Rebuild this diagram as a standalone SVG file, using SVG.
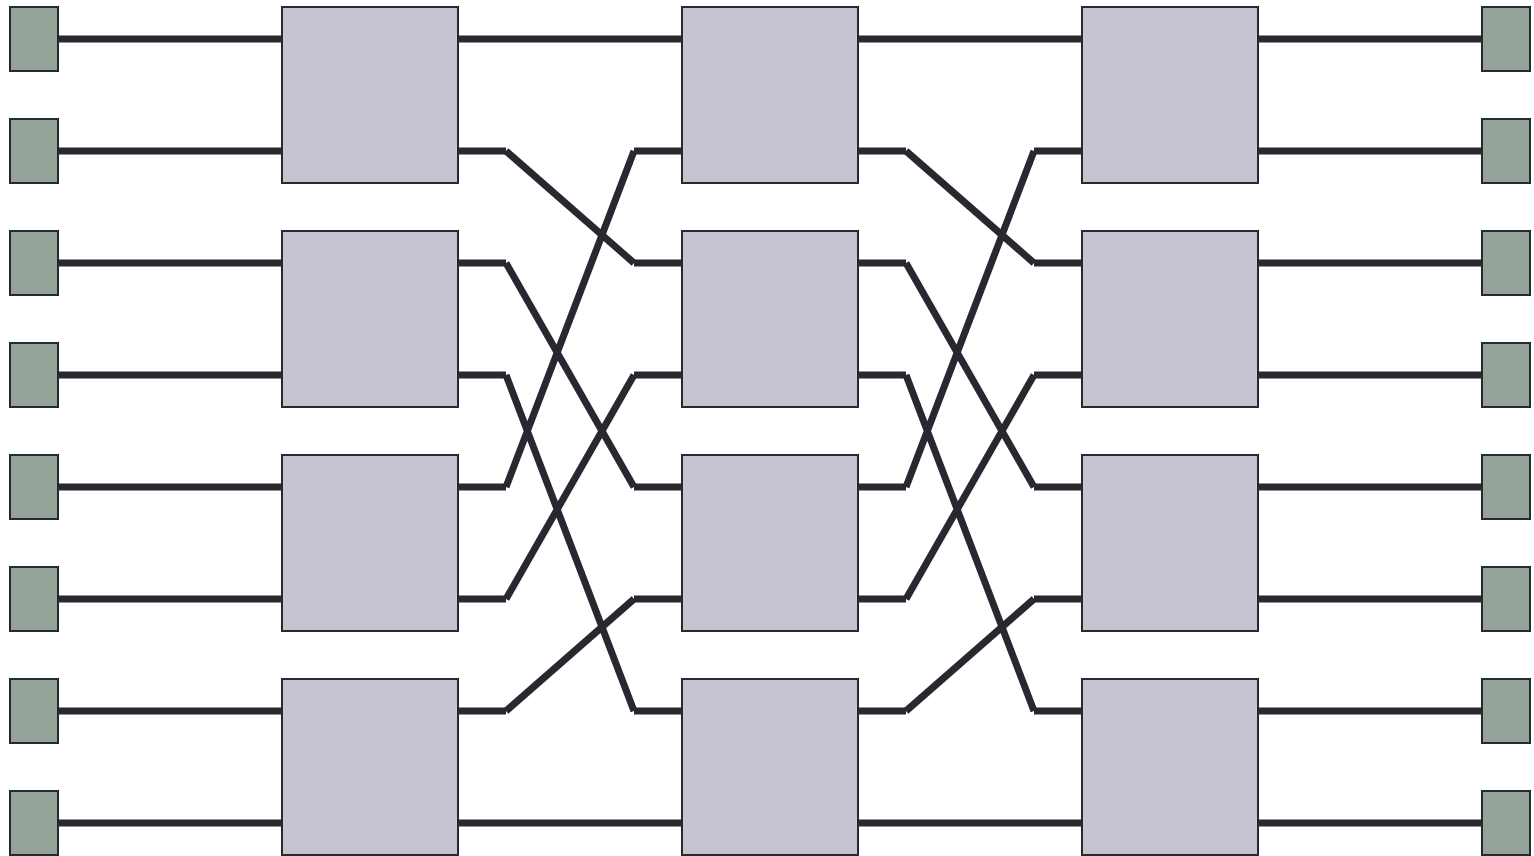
<svg xmlns="http://www.w3.org/2000/svg" width="1534" height="856" viewBox="0 0 1534 856">
<style>
.w{stroke:#282830;stroke-width:7;fill:none;stroke-linecap:butt}
.t{fill:#93a398;stroke:#282830;stroke-width:2}
.s{fill:#c5c5d2;stroke:#282830;stroke-width:2}
</style>
<rect width="1534" height="856" fill="#ffffff"/>
<g id="connectors" class="w">
<path d="M58 39H282M58 151H282M58 263H282M58 375H282M58 487H282M58 599H282M58 711H282M58 823H282"/>
<path d="M1258 39H1482M1258 151H1482M1258 263H1482M1258 375H1482M1258 487H1482M1258 599H1482M1258 711H1482M1258 823H1482"/>
<path d="M458 39H682M458 823H682M858 39H1082M858 823H1082"/>
<path d="M458 151H506M458 263H506M458 375H506M458 487H506M458 599H506M458 711H506"/>
<path d="M634 151H682M634 263H682M634 375H682M634 487H682M634 599H682M634 711H682"/>
<path d="M506 151L634 263M506 263L634 487M506 375L634 711M506 487L634 151M506 599L634 375M506 711L634 599"/>
<path d="M858 151H906M858 263H906M858 375H906M858 487H906M858 599H906M858 711H906"/>
<path d="M1034 151H1082M1034 263H1082M1034 375H1082M1034 487H1082M1034 599H1082M1034 711H1082"/>
<path d="M906 151L1034 263M906 263L1034 487M906 375L1034 711M906 487L1034 151M906 599L1034 375M906 711L1034 599"/>
</g>
<g id="in0"><rect class="t" x="10" y="7" width="48" height="64"/></g>
<g id="in1"><rect class="t" x="10" y="119" width="48" height="64"/></g>
<g id="in2"><rect class="t" x="10" y="231" width="48" height="64"/></g>
<g id="in3"><rect class="t" x="10" y="343" width="48" height="64"/></g>
<g id="in4"><rect class="t" x="10" y="455" width="48" height="64"/></g>
<g id="in5"><rect class="t" x="10" y="567" width="48" height="64"/></g>
<g id="in6"><rect class="t" x="10" y="679" width="48" height="64"/></g>
<g id="in7"><rect class="t" x="10" y="791" width="48" height="64"/></g>
<g id="out0"><rect class="t" x="1482" y="7" width="48" height="64"/></g>
<g id="out1"><rect class="t" x="1482" y="119" width="48" height="64"/></g>
<g id="out2"><rect class="t" x="1482" y="231" width="48" height="64"/></g>
<g id="out3"><rect class="t" x="1482" y="343" width="48" height="64"/></g>
<g id="out4"><rect class="t" x="1482" y="455" width="48" height="64"/></g>
<g id="out5"><rect class="t" x="1482" y="567" width="48" height="64"/></g>
<g id="out6"><rect class="t" x="1482" y="679" width="48" height="64"/></g>
<g id="out7"><rect class="t" x="1482" y="791" width="48" height="64"/></g>
<g id="s1a"><rect class="s" x="282" y="7" width="176" height="176"/></g>
<g id="s1b"><rect class="s" x="282" y="231" width="176" height="176"/></g>
<g id="s1c"><rect class="s" x="282" y="455" width="176" height="176"/></g>
<g id="s1d"><rect class="s" x="282" y="679" width="176" height="176"/></g>
<g id="s2a"><rect class="s" x="682" y="7" width="176" height="176"/></g>
<g id="s2b"><rect class="s" x="682" y="231" width="176" height="176"/></g>
<g id="s2c"><rect class="s" x="682" y="455" width="176" height="176"/></g>
<g id="s2d"><rect class="s" x="682" y="679" width="176" height="176"/></g>
<g id="s3a"><rect class="s" x="1082" y="7" width="176" height="176"/></g>
<g id="s3b"><rect class="s" x="1082" y="231" width="176" height="176"/></g>
<g id="s3c"><rect class="s" x="1082" y="455" width="176" height="176"/></g>
<g id="s3d"><rect class="s" x="1082" y="679" width="176" height="176"/></g>
</svg>
